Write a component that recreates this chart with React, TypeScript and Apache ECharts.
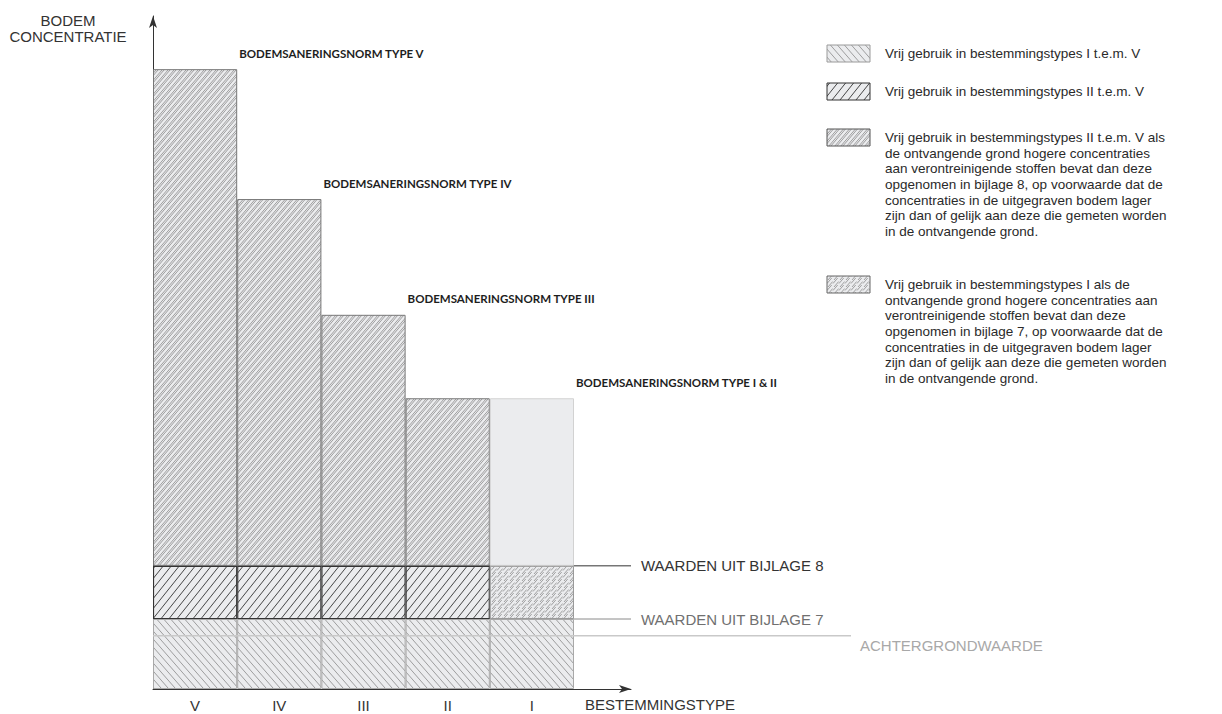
import React, { useEffect, useRef } from 'react';
import * as echarts from 'echarts';

// ---------------- data ----------------
const categories = ['V', 'IV', 'III', 'II', 'I'];
const saneringsnorm = [92.1, 72.8, 55.6, 43.2, 43.2];
const bijlage8 = 18.3;
const bijlage7 = 10.4;
const achtergrondwaarde = 7.9;
const vrijGebruikIItemV = [true, true, true, true, false];
const normTitles = [
  'BODEMSANERINGSNORM TYPE V',
  'BODEMSANERINGSNORM TYPE IV',
  'BODEMSANERINGSNORM TYPE III',
  '',
  'BODEMSANERINGSNORM TYPE I & II',
];
const lineLabels = ['WAARDEN UIT BIJLAGE 8', 'WAARDEN UIT BIJLAGE 7', 'ACHTERGRONDWAARDE'];
const legendTexts = [
  'Vrij gebruik in bestemmingstypes I t.e.m. V',
  'Vrij gebruik in bestemmingstypes II t.e.m. V',
  'Vrij gebruik in bestemmingstypes II t.e.m. V als\nde ontvangende grond hogere concentraties\naan verontreinigende stoffen bevat dan deze\nopgenomen in bijlage 8, op voorwaarde dat de\nconcentraties in de uitgegraven bodem lager\nzijn dan of gelijk aan deze die gemeten worden\nin de ontvangende grond.',
  'Vrij gebruik in bestemmingstypes I als de\nontvangende grond hogere concentraties aan\nverontreinigende stoffen bevat dan deze\nopgenomen in bijlage 7, op voorwaarde dat de\nconcentraties in de uitgegraven bodem lager\nzijn dan of gelijk aan deze die gemeten worden\nin de ontvangende grond.',
];
const xAxisName = 'BESTEMMINGSTYPE';
const yAxisName = 'BODEM\nCONCENTRATIE';

// ---------------- styles ----------------
const FONT = "'Liberation Sans', Arial, Helvetica, sans-serif";
const TITLE_FONT = "Lato, 'Open Sans', sans-serif";
const FS = 13.5; // legend
const FS_CAPS = 15; // uppercase labels
const LIGHT = '#ebecee';

function hatch(
  w: number,
  h: number,
  dir: number,
  color: string,
  lw: number,
  offsets: number[] = [0],
  dash?: number[],
  dashOffsets: number[] = [0, 0],
  bg: string = LIGHT
) {
  const c = document.createElement('canvas');
  c.width = w;
  c.height = h;
  const ctx = c.getContext('2d') as CanvasRenderingContext2D;
  ctx.fillStyle = bg;
  ctx.fillRect(0, 0, w, h);
  ctx.strokeStyle = color;
  ctx.lineWidth = lw;
  if (dash) ctx.setLineDash(dash);
  for (const k of [-1, 0, 1]) {
    offsets.forEach((o, j) => {
      ctx.lineDashOffset = dashOffsets[j] || 0;
      ctx.beginPath();
      if (dir > 0) {
        ctx.moveTo(k * w + o, h);
        ctx.lineTo((k + 1) * w + o, 0);
      } else {
        ctx.moveTo(k * w + o, 0);
        ctx.lineTo((k + 1) * w + o, h);
      }
      ctx.stroke();
    });
  }
  return { image: c, repeat: 'repeat' };
}

export default function App() {
  const ref = useRef<HTMLDivElement>(null);

  useEffect(() => {
    if (!ref.current) return;
    const chart = echarts.init(ref.current, undefined, { renderer: 'svg' });

    const P = {
      base: hatch(7, 8, -1, '#949494', 0.9),
      dark: hatch(8, 10, 1, '#333333', 0.9),
      upper: hatch(6, 7, 1, '#7c7c7c', 0.7, [0, 2]),
      dashedI: hatch(6, 7, 1, '#8c8c8c', 0.8, [0, 2], [7.2, 2.02], [0, 4.6]),
    };

    const baseData = categories.map(() => bijlage7);
    const darkData = categories.map((_, i) => (vrijGebruikIItemV[i] ? bijlage8 - bijlage7 : '-'));
    const dashedData = categories.map((_, i) => (!vrijGebruikIItemV[i] ? bijlage8 - bijlage7 : '-'));
    const upperData = categories.map((_, i) => (vrijGebruikIItemV[i] ? saneringsnorm[i] - bijlage8 : '-'));
    const plainData = categories.map((_, i) => (!vrijGebruikIItemV[i] ? saneringsnorm[i] - bijlage8 : '-'));

    const titleLabel = {
      show: true,
      position: ['100%', 0],
      offset: [2, -16],
      align: 'left',
      verticalAlign: 'middle',
      formatter: (p: any) => normTitles[p.dataIndex] || '',
      fontFamily: TITLE_FONT,
      fontWeight: 'bold',
      fontSize: 11.5,
      color: '#1e1e1e',
    };

    const legendTops = [45, 83, 129, 276];
    const legendFills = [P.base, P.dark, P.upper, P.dashedI];
    const legendStrokes = ['#9a9a9a', '#333', '#555', '#666'];
    const LH = 15.7;

    const graphic: any[] = [
      {
        type: 'text',
        x: 68,
        y: 12,
        style: {
          text: yAxisName,
          align: 'center',
          verticalAlign: 'top',
          fontSize: FS_CAPS,
          fontFamily: FONT,
          lineHeight: 16,
          fill: '#333',
        },
      },
    ];
    legendTexts.forEach((t, i) => {
      graphic.push({
        type: 'rect',
        shape: { x: 827, y: legendTops[i], width: 43, height: 17 },
        style: { fill: legendFills[i], stroke: legendStrokes[i], lineWidth: 1 },
      });
      graphic.push({
        type: 'text',
        x: 885,
        y: legendTops[i] + 8.5 - LH / 2,
        style: {
          text: t,
          align: 'left',
          verticalAlign: 'top',
          fontSize: FS,
          fontFamily: FONT,
          lineHeight: LH,
          fill: '#2a2a2a',
        },
      });
    });

    const hiddenAxis = (gridIndex: number) => ({
      type: 'value',
      gridIndex,
      min: 0,
      max: 1,
      show: false,
    });
    const hiddenY = (gridIndex: number) => ({
      type: 'value',
      gridIndex,
      min: 0,
      max: 100,
      show: false,
    });

    const refLine = (
      name: string,
      value: number,
      color: string,
      width: number,
      labelColor: string,
      xAxisIndex: number,
      z: number,
      offsetY: number,
      distance: number
    ) => ({
      name,
      type: 'line',
      xAxisIndex,
      yAxisIndex: xAxisIndex,
      z,
      silent: true,
      symbol: 'none',
      data: [
        [0, value],
        [1, value],
      ],
      lineStyle: { color, width },
      endLabel: {
        show: true,
        formatter: name,
        distance,
        offset: [0, offsetY],
        color: labelColor,
        fontSize: FS_CAPS,
        fontFamily: FONT,
      },
    });

    const option: any = {
      animation: false,
      backgroundColor: '#ffffff',
      grid: [
        // bars: five columns
        { left: 153, right: 648, top: 16, bottom: 25, outerBoundsMode: 'none', containLabel: false },
        // axis with arrow & reference values
        { left: 153, right: 591, top: 16, bottom: 25, outerBoundsMode: 'none', containLabel: false },
        // achtergrondwaarde line
        { left: 153, right: 371, top: 16, bottom: 25, outerBoundsMode: 'none', containLabel: false },
      ],
      xAxis: [
        {
          type: 'category',
          gridIndex: 0,
          data: categories,
          axisLine: { show: false },
          axisTick: { show: false },
          splitLine: { show: false },
          axisLabel: {
            color: '#333',
            fontSize: FS_CAPS,
            fontFamily: FONT,
            margin: 9,
          },
        },
        {
          type: 'value',
          gridIndex: 1,
          min: 0,
          max: 1,
          axisLine: {
            show: true,
            symbol: ['none', 'arrow'],
            symbolSize: [6, 12],
            lineStyle: { color: '#333', width: 1 },
          },
          axisTick: { show: false },
          splitLine: { show: false },
          axisLabel: { show: false },
          name: xAxisName,
          nameLocation: 'end',
          nameGap: -46,
          nameMoveOverlap: false,
          nameTextStyle: {
            align: 'left',
            verticalAlign: 'top',
            padding: [8, 0, 0, 0],
            color: '#333',
            fontSize: FS_CAPS,
            fontFamily: FONT,
          },
        },
        hiddenAxis(2),
      ],
      yAxis: [
        {
          type: 'value',
          gridIndex: 0,
          min: 0,
          max: 100,
          axisLine: {
            show: true,
            symbol: ['none', 'arrow'],
            symbolSize: [6, 12],
            lineStyle: { color: '#333', width: 1 },
          },
          axisTick: { show: false },
          axisLabel: { show: false },
          splitLine: { show: false },
        },
        hiddenY(1),
        hiddenY(2),
      ],
      graphic,
      series: [
        {
          name: legendTexts[0],
          type: 'bar',
          stack: 'bodem',
          barWidth: '100%',
          data: baseData,
          itemStyle: { color: P.base, borderColor: '#a9a9a9', borderWidth: 1 },
        },
        {
          name: legendTexts[1],
          type: 'bar',
          stack: 'bodem',
          barWidth: '100%',
          data: darkData,
          itemStyle: { color: P.dark, borderColor: '#333', borderWidth: 1.1 },
        },
        {
          name: legendTexts[3],
          type: 'bar',
          stack: 'bodem',
          barWidth: '100%',
          data: dashedData,
          itemStyle: { color: P.dashedI, borderColor: '#9a9a9a', borderWidth: 1 },
        },
        {
          name: legendTexts[2],
          type: 'bar',
          stack: 'bodem',
          barWidth: '100%',
          data: upperData,
          itemStyle: { color: P.upper, borderColor: '#777', borderWidth: 1 },
          label: titleLabel,
        },
        {
          name: 'I',
          type: 'bar',
          stack: 'bodem',
          barWidth: '100%',
          data: plainData,
          itemStyle: { color: LIGHT, borderColor: '#d2d2d2', borderWidth: 1 },
          label: titleLabel,
        },
        refLine(lineLabels[0], bijlage8, '#333', 1, '#333', 1, 1, 0, 10),
        refLine(lineLabels[1], bijlage7, '#8a8a8a', 1, '#707070', 1, 1, 0, 10),
        refLine(lineLabels[2], achtergrondwaarde, '#c9c9c9', 1.5, '#a8a8a8', 2, 5, 10, 9),
      ],
    };

    chart.setOption(option);
    return () => chart.dispose();
  }, []);

  return (
    <div
      ref={ref}
      style={{ position: 'fixed', left: 0, top: 0, width: 1222, height: 714, background: '#fff' }}
    />
  );
}
